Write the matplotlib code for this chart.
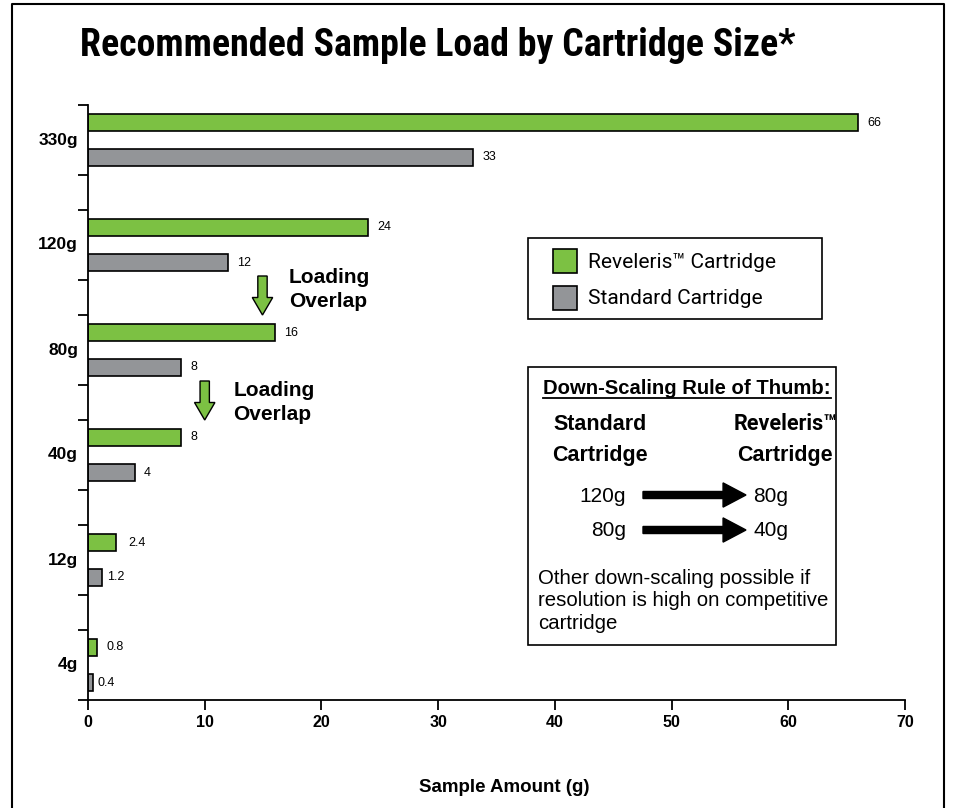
import matplotlib
matplotlib.use("Agg")
import matplotlib.pyplot as plt
from matplotlib.patches import Rectangle, FancyArrow
from matplotlib.lines import Line2D

plt.rcParams['font.family'] = ['Liberation Sans', 'DejaVu Sans']
TITLE_FONT = ['Roboto Condensed', 'Liberation Sans', 'DejaVu Sans']
TM_FONT = ['Roboto', 'Liberation Sans', 'DejaVu Sans']

categories = ["4g", "12g", "40g", "80g", "120g", "330g"]
reveleris = [0.8, 2.4, 8, 16, 24, 66]
standard = [0.4, 1.2, 4, 8, 12, 33]
x_ticks = [0, 10, 20, 30, 40, 50, 60, 70]

GREEN = "#7cc143"
GRAY = "#939598"

fig = plt.figure(figsize=(9.56, 8.08), dpi=100)
W, H = 956, 808
ax = fig.add_axes([88 / W, 1 - 700 / H, (905 - 88) / W, (700 - 105) / H])


def fx(px):
    return px / W


def fy(py):
    return 1 - py / H


def ypx(py):
    # pixel row -> data y
    return (700 - py) / 35.0


for i, (r, s) in enumerate(zip(reveleris, standard)):
    yg = 3 * i + 1.5
    ys = 3 * i + 0.5
    ax.barh(yg, r, height=0.46, color=GREEN, edgecolor="black", linewidth=1.2)
    ax.barh(ys, s, height=0.46, color=GRAY, edgecolor="black", linewidth=1.2)
    ax.annotate(f"{r:g}", (r, yg), xytext=(8.5 if 1 < r < 5 else 6.5, 0), textcoords="offset points",
                va="center", ha="left", fontsize=9)
    ax.annotate(f"{s:g}", (s, ys), xytext=(3.5 if s < 2 else 6.5, 0), textcoords="offset points",
                va="center", ha="left", fontsize=9)

ax.set_xlim(0, 70)
ax.set_ylim(0, 17)
ax.set_xticks(x_ticks)
ax.set_xticklabels([str(t) for t in x_ticks], fontweight="bold", fontsize=11.5)
yt = []
for i in range(6):
    yt += [3 * i, 3 * i + 2]
ax.set_yticks(yt)
ax.set_yticklabels([])
ax.tick_params(axis="y", direction="out", length=7.5, width=1.3)
ax.tick_params(axis="x", direction="out", length=7.5, width=1.3, pad=3.5)
for i, c in enumerate(categories):
    ax.text(-0.012, 3 * i + 1, c, transform=ax.get_yaxis_transform(), ha="right", va="center",
            fontweight="bold", fontsize=12.5)
for side in ["top", "right"]:
    ax.spines[side].set_visible(False)
for side in ["left", "bottom"]:
    ax.spines[side].set_linewidth(1.3)

fig.text(fx(504), fy(788), "Sample Amount (g)", fontweight="bold", fontsize=13.5,
         ha="center", va="center")


def down_arrow(xc, ytop, ybot):
    ax.add_patch(FancyArrow(xc, ytop, 0, ybot - ytop, width=0.8, head_width=1.75,
                            head_length=0.5, length_includes_head=True,
                            facecolor=GREEN, edgecolor="black", linewidth=1.0, zorder=3))


down_arrow(14.95, ypx(276), ypx(315))
down_arrow(10.0, ypx(381), ypx(420))
ax.text(17.2, ypx(283), "Loading", fontweight="bold", fontsize=15, ha="left", va="baseline")
ax.text(17.2, ypx(307), "Overlap", fontweight="bold", fontsize=15, ha="left", va="baseline")
ax.text(12.45, ypx(396), "Loading", fontweight="bold", fontsize=15, ha="left", va="baseline")
ax.text(12.45, ypx(420), "Overlap", fontweight="bold", fontsize=15, ha="left", va="baseline")

# Legend box
fig.patches.append(Rectangle((fx(528), fy(319)), fx(822) - fx(528), fy(238) - fy(319),
                             transform=fig.transFigure, facecolor="white", edgecolor="black", lw=1.2))
fig.patches.append(Rectangle((fx(553), fy(273)), fx(577) - fx(553), fy(249) - fy(273),
                             transform=fig.transFigure, facecolor=GREEN, edgecolor="black", lw=1.2))
fig.patches.append(Rectangle((fx(553), fy(310)), fx(577) - fx(553), fy(286) - fy(310),
                             transform=fig.transFigure, facecolor=GRAY, edgecolor="black", lw=1.2))
fig.text(fx(588), fy(263), "Reveleris\u2122 Cartridge", fontsize=15, va="center", ha="left",
         family=TM_FONT)
fig.text(fx(588), fy(298), "Standard Cartridge", fontsize=15, va="center", ha="left",
         family=TM_FONT)

# Rule of thumb box
fig.patches.append(Rectangle((fx(528), fy(645)), fx(836) - fx(528), fy(367) - fy(645),
                             transform=fig.transFigure, facecolor="white", edgecolor="black", lw=1.2))
fig.text(fx(543), fy(388), "Down-Scaling Rule of Thumb:", fontsize=14.6, fontweight="bold",
         va="center", ha="left")
fig.add_artist(Line2D([fx(543), fx(831)], [fy(398), fy(398)], color="black", lw=1.3))
fig.text(fx(600), fy(430), "Standard", fontsize=15.5, fontweight="bold", ha="center", va="baseline")
fig.text(fx(600), fy(461), "Cartridge", fontsize=15.5, fontweight="bold", ha="center", va="baseline")
fig.text(fx(786), fy(430), "Reveleris\u2122", fontsize=15.5, fontweight="bold", ha="center",
         va="baseline", family=TM_FONT)
fig.text(fx(785), fy(461), "Cartridge", fontsize=15.5, fontweight="bold", ha="center", va="baseline")
fig.text(fx(626), fy(496), "120g", fontsize=15, ha="right", va="center")
fig.text(fx(626), fy(530), "80g", fontsize=15, ha="right", va="center")
fig.text(fx(753), fy(496), "80g", fontsize=15, ha="left", va="center")
fig.text(fx(753), fy(530), "40g", fontsize=15, ha="left", va="center")
for py in (495, 530):
    fig.add_artist(FancyArrow(fx(643), fy(py), fx(746) - fx(643), 0, width=0.0087,
                              head_width=0.03, head_length=0.024, length_includes_head=True,
                              transform=fig.transFigure, color="black", zorder=5))
fig.text(fx(538), fy(601), "Other down-scaling possible if\nresolution is high on competitive\ncartridge",
         fontsize=14.7, ha="left", va="center", linespacing=1.25)

# Title
fig.text(fx(80), fy(45), "Recommended Sample Load by Cartridge Size*", fontsize=27.3,
         fontweight="bold", ha="left", va="center", family=TITLE_FONT)

# Outer frame (left, top, right)
fig.add_artist(Line2D([fx(12), fx(12), fx(944), fx(944)], [0, fy(4), fy(4), 0],
                      color="black", lw=1.5))

fig.savefig("out.png", dpi=100)
